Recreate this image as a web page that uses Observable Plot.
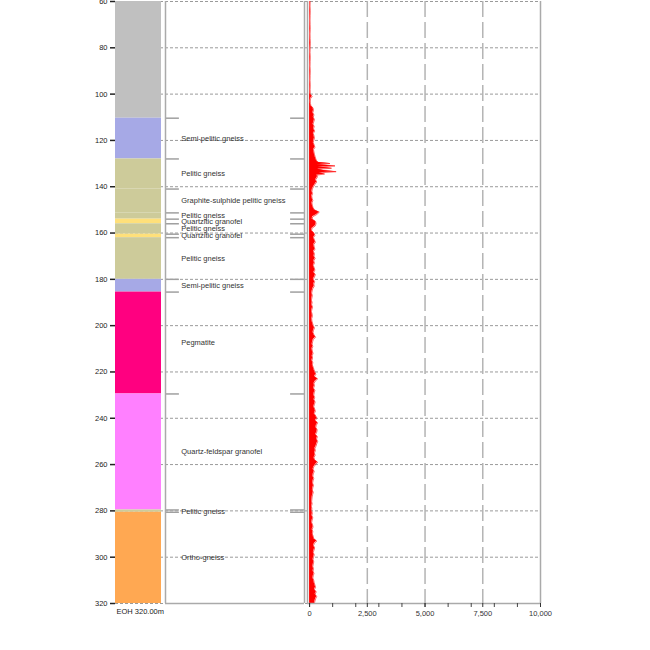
<!DOCTYPE html>
<html>
<head>
<meta charset="utf-8">
<script src="https://cdn.jsdelivr.net/npm/d3@7"></script>
<script src="https://cdn.jsdelivr.net/npm/@observablehq/plot@0.6"></script>
<style>
  html, body { margin: 0; padding: 0; background: #fff; }
  #chart { width: 650px; height: 650px; overflow: hidden; }
</style>
</head>
<body>
<div id="chart"></div>
<script>
// ---------- DATA ----------
const yTicks = [60, 80, 100, 120, 140, 160, 180, 200, 220, 240, 260, 280, 300, 320];
const xMinorTicks = [0, 1000, 2000, 3000, 4000, 5000, 6000, 7000, 8000, 9000, 10000];
const xLabelTicks = [0, 2500, 5000, 7500, 10000];
const xGridTicks = [2500, 5000, 7500];
const eohLabel = "EOH 320.00m";

const lithName = ["", "Semi-pelitic gneiss", "Pelitic gneiss", "Graphite-sulphide pelitic gneiss",
  "Pelitic gneiss", "Quartzitic granofel", "Pelitic gneiss", "Quartzitic granofel", "Pelitic gneiss",
  "Semi-pelitic gneiss", "Pegmatite", "Quartz-feldspar granofel", "Pelitic gneiss", "Ortho-gneiss"];
const lithTop = [60, 110.4, 128, 141, 151.3, 154, 156, 160.5, 162, 180, 185.5, 229.5, 279.6, 280.6];
const lithBottom = [110.4, 128, 141, 151.3, 154, 156, 160.5, 162, 180, 185.5, 229.5, 279.6, 280.6, 320];
const lithColor = ["#c0c0c0", "#a6a9e6", "#cdcb9a", "#cdcb9a", "#cdcb9a", "#ffe07a", "#cdcb9a",
  "#ffe07a", "#cdcb9a", "#a6a9e6", "#ff0080", "#ff80ff", "#cdcb9a", "#ffa852"];

const logDepth = [
  60, 62, 64, 66, 68, 70, 72, 74, 76, 78, 80, 82, 84, 86, 88, 90, 92, 94, 96, 98,
  100, 101, 102, 103, 104, 105, 106, 107, 108, 109, 110, 111, 112, 113, 114, 115, 116, 117, 118, 119,
  120, 121, 122, 123, 124, 125, 126, 127, 128,
  128.5, 129, 129.5, 130, 130.5, 131, 131.5, 132, 132.5, 133, 133.5, 134, 134.5, 135, 135.5, 136,
  137, 138, 139, 140, 141, 142, 143, 144, 145, 146, 147, 148, 149, 150, 151, 152, 153, 154, 155, 156,
  157, 158, 159, 160, 161, 162, 163, 164, 165, 166, 167, 168, 169, 170, 171, 172, 173, 174, 175, 176,
  177, 178, 179, 180, 181, 182, 183, 184, 185, 186, 187, 188, 189, 190, 191, 192, 193, 194, 195, 196,
  197, 198, 199, 200, 201, 202, 203, 204, 205, 206, 207, 208, 209, 210, 211, 212, 213, 214, 215, 216,
  217, 218, 219, 220, 221, 222, 223, 224, 225, 226, 227, 228, 229, 230, 231, 232, 233, 234, 235, 236,
  237, 238, 239, 240, 241, 242, 243, 244, 245, 246, 247, 248, 249, 250, 251, 252, 253, 254, 255, 256,
  257, 258, 259, 260, 261, 262, 263, 264, 265, 266, 267, 268, 269, 270, 271, 272, 273, 274, 275, 276,
  277, 278, 279, 280, 281, 282, 283, 284, 285, 286, 287, 288, 289, 290, 291, 292, 293, 294, 295, 296,
  297, 298, 299, 300, 301, 302, 303, 304, 305, 306, 307, 308, 309, 310, 311, 312, 313, 314, 315, 316,
  317, 318, 319, 320
];
const logValue = [
  25, 20, 30, 25, 20, 25, 30, 20, 25, 35, 25, 20, 30, 25, 20, 30, 25, 20, 30, 25,
  30, 110, 40, 30, 35, 60, 150, 170, 140, 190, 160, 210, 180, 150, 200, 170, 220, 160, 190, 210,
  180, 160, 200, 230, 170, 190, 210, 240, 270,
  290, 310, 390, 880, 330, 1100, 370, 950, 350, 600, 1150, 410, 650, 310, 340, 330,
  260, 310, 230, 170, 120, 100, 130, 90, 110, 140, 100, 120, 150, 210, 420, 310, 130, 110, 260, 280,
  240, 100, 90, 190, 230, 170, 210, 250, 180, 200, 230, 170, 210, 190, 240, 180, 210, 160, 200, 230,
  180, 250, 210, 160, 220, 180, 200, 140, 110, 90, 120, 100, 80, 110, 90, 130, 100, 80, 110, 120,
  90, 100, 130, 160, 210, 170, 150, 190, 260, 160, 130, 110, 140, 100, 120, 150, 110, 130, 100, 140,
  120, 160, 190, 230, 270, 210, 350, 240, 190, 210, 170, 230, 200, 180, 220, 190, 240, 210, 180, 220,
  250, 200, 270, 310, 250, 350, 290, 270, 330, 310, 260, 340, 300, 350, 310, 280, 230, 250, 210, 240,
  190, 220, 350, 260, 180, 150, 200, 160, 140, 180, 150, 130, 170, 140, 120, 160, 130, 110, 100, 90,
  110, 80, 100, 90, 120, 100, 140, 110, 90, 130, 150, 110, 140, 120, 160, 180, 310, 210, 170, 220,
  190, 160, 200, 170, 150, 180, 160, 140, 170, 150, 190, 160, 140, 180, 200, 230, 260, 210, 290, 240,
  310, 260, 230, 210
];

// ---------- TABLES ----------
const units = lithName.map((name, i) => ({name, top: lithTop[i], bottom: lithBottom[i], color: lithColor[i]}));
const boundaries = lithTop.slice(1);
const logData = logDepth.map((depth, i) => ({depth, value: logValue[i]}));

// ---------- LAYOUT ----------
const W = 650, H = 625, MT = 1, MB = 22;
const font = "'Liberation Sans', Arial, 'DejaVu Sans', sans-serif";
const frameGray = "#aaaaaa";
const common = {
  width: W, height: H, marginTop: MT, marginBottom: MB,
  style: {background: "white", fontFamily: font, fontSize: "7.5px", color: "#222"}
};
const yScale = {domain: [60, 320], reverse: true};
const xDomain = [-90, 10000];

// Grid + depth axis (spans from column to log panel)
const p0 = Plot.plot({
  ...common, marginLeft: 115, marginRight: 110,
  y: {...yScale},
  marks: [
    Plot.gridY(yTicks, {stroke: "#9a9a9a", strokeOpacity: 1, strokeDasharray: "3,2"}),
    Plot.axisY(yTicks, {anchor: "left", tickSize: 5, tickPadding: 3, strokeWidth: 1.5, color: "#222", fontSize: 7.5, label: null})
  ]
});

// Lithology column
const p1 = Plot.plot({
  ...common, marginLeft: 115, marginRight: 489,
  y: {...yScale, axis: null},
  marks: [
    Plot.rect(units, {y1: "top", y2: "bottom", fill: "color"}),
    Plot.text([eohLabel], {frameAnchor: "bottom-left", text: d => d, dx: 1, dy: 10, fill: "#222", fontSize: 7.5})
  ]
});

// Lithology labels panel
const p2 = Plot.plot({
  ...common, marginLeft: 165, marginRight: 346,
  x: {domain: [0, 1], axis: null},
  y: {...yScale, axis: null},
  marks: [
    Plot.ruleY(boundaries, {x1: 0, x2: 0.1, stroke: "#a0a0a0", strokeWidth: 1.5}),
    Plot.ruleY(boundaries, {x1: 0.9, x2: 1, stroke: "#a0a0a0", strokeWidth: 1.5}),
    Plot.text(units.filter(d => d.name), {
      x: 0.113, y: d => (d.top + d.bottom) / 2, text: "name",
      textAnchor: "start", fill: "#333", fontSize: 7.5
    }),
    Plot.ruleX([0, 1], {stroke: frameGray, strokeWidth: 1.5}),
    Plot.ruleY([320], {stroke: frameGray, strokeWidth: 1.5})
  ]
});

// Log panel
const p3 = Plot.plot({
  ...common, marginLeft: 307, marginRight: 110,
  x: {domain: xDomain, axis: null},
  y: {...yScale, axis: null},
  marks: [
    Plot.ruleX(xGridTicks, {stroke: "#b4b4b4", strokeWidth: 1.5, strokeDasharray: "16,5"}),
    Plot.areaX(logData, {y: "depth", x: "value", fill: "#ff0000"}),
    Plot.lineX(logData, {y: "depth", x: "value", stroke: "#ff0000", strokeWidth: 0.6}),
    Plot.ruleX([xDomain[0], xDomain[1]], {stroke: frameGray, strokeWidth: 1.5}),
    Plot.ruleY([320], {stroke: frameGray, strokeWidth: 1.5}),
    Plot.axisX(xMinorTicks, {anchor: "bottom", tickSize: 4, tickFormat: () => "", color: "#444", label: null}),
    Plot.axisX(xLabelTicks, {anchor: "bottom", tickSize: 4, tickPadding: 3, tickFormat: d3.format(","), color: "#333", fontSize: 7.5, label: null})
  ]
});

// Merge every panel's drawing into one SVG (all panels share the same size and y scale)
[p1, p2, p3].forEach(p => {
  Array.from(p.childNodes).forEach(node => {
    if (node.nodeName.toLowerCase() !== "style") p0.appendChild(node);
  });
});
document.getElementById("chart").appendChild(p0);
</script>
</body>
</html>
